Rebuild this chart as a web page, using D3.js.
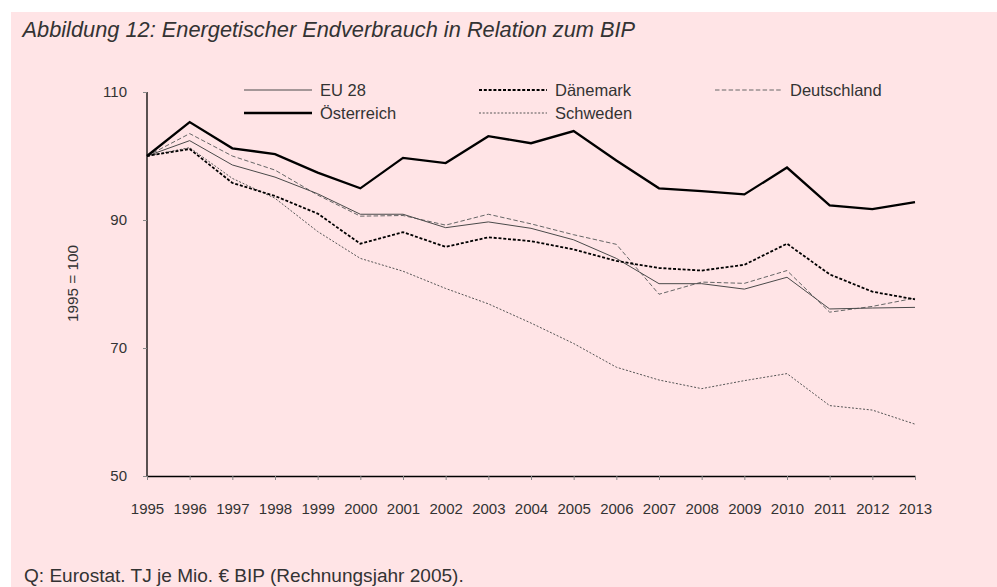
<!DOCTYPE html>
<html><head><meta charset="utf-8">
<script src="https://cdn.jsdelivr.net/npm/d3@7"></script>
<style>
html,body{margin:0;padding:0;background:#fff;}
svg{display:block;}
text{font-family:"Liberation Sans",Arial,sans-serif;fill:#333;}
</style></head>
<body>
<svg id="c" width="997" height="587"></svg>
<script>
const years = [1995,1996,1997,1998,1999,2000,2001,2002,2003,2004,2005,2006,2007,2008,2009,2010,2011,2012,2013];
const eu28 = [100,102.4,98.6,96.7,94.1,90.9,90.9,88.8,89.7,88.7,86.9,84.0,80.05,80.05,79.2,81.05,76.1,76.25,76.35];
const oesterreich = [100,105.3,101.2,100.3,97.4,94.95,99.7,98.9,103.1,102.0,103.9,99.3,94.95,94.5,94.0,98.2,92.3,91.7,92.8];
const daenemark = [100,101.1,95.8,93.75,91.0,86.3,88.1,85.8,87.3,86.7,85.4,83.6,82.5,82.1,83.0,86.3,81.5,78.8,77.6];
const deutschland = [100,103.5,100.0,97.8,93.9,90.6,90.7,89.2,90.9,89.4,87.7,86.2,78.4,80.3,80.1,82.1,75.6,76.5,77.8];
const schweden = [100,101.3,96.5,93.4,88.2,84.0,82.0,79.3,76.9,73.9,70.7,67.0,65.0,63.65,64.9,66.0,61.0,60.3,58.1];
const yTicks = [50,70,90,110];
const titleText = "Abbildung 12: Energetischer Endverbrauch in Relation zum BIP";
const yLabel = "1995 = 100";
const sourceText = "Q: Eurostat. TJ je Mio. € BIP (Rechnungsjahr 2005).";

const svg = d3.select("#c");
svg.append("rect").attr("x",11).attr("y",12).attr("width",986).attr("height",575).attr("fill","#FFE4E6");

function fit(sel, w){
  const n = sel.node();
  const fs = parseFloat(sel.attr("font-size"));
  const l = n.getComputedTextLength();
  sel.attr("font-size", (fs*w/l).toFixed(2));
}

const x = d3.scalePoint().domain(years).range([147,915]);
const y = d3.scaleLinear().domain([50,110]).range([476,92]);

// axes
const gy = svg.append("g").attr("transform","translate(147,0)")
  .call(d3.axisLeft(y).tickValues(yTicks).tickSizeInner(4).tickSizeOuter(0).tickPadding(16));
const gx = svg.append("g").attr("transform","translate(0,476)")
  .call(d3.axisBottom(x).tickSizeInner(4).tickSizeOuter(0).tickPadding(23));
[gx,gy].forEach(g=>{
  g.attr("font-size",15);
  g.select(".domain").attr("stroke","#000").attr("stroke-width",1.3);
  g.selectAll(".tick line").attr("stroke","#888");
  g.selectAll(".tick text").attr("font-size",15).attr("fill","#333");
});
gx.selectAll(".tick text").attr("dy","0.71em");
gy.select(".domain").attr("d","M0,92V476");

// series
const series = [
  {name:"Schweden", vals:schweden, color:"#555", w:1, dash:"2,1.7"},
  {name:"Deutschland", vals:deutschland, color:"#666", w:1, dash:"4.5,2.3"},
  {name:"EU 28", vals:eu28, color:"#4a4a4a", w:1, dash:null},
  {name:"Dänemark", vals:daenemark, color:"#000", w:1.8, dash:"3,1.8"},
  {name:"Österreich", vals:oesterreich, color:"#000", w:2.3, dash:null}
];
const line = d3.line().x((d,i)=>x(years[i])).y(d=>y(d));
series.forEach(s=>{
  svg.append("path").attr("d",line(s.vals)).attr("fill","none")
    .attr("stroke",s.color).attr("stroke-width",s.w)
    .attr("stroke-dasharray",s.dash).attr("stroke-linejoin","miter");
});

// legend
const legendPos = {
  "EU 28":[244,90,320],
  "Österreich":[244,113,320],
  "Dänemark":[479,90,555],
  "Schweden":[479,113,555],
  "Deutschland":[715,90,790]
};
series.forEach(s=>{
  const p = legendPos[s.name];
  svg.append("line").attr("x1",p[0]).attr("x2",p[0]+68).attr("y1",p[1]).attr("y2",p[1])
    .attr("stroke",s.color).attr("stroke-width",s.w).attr("stroke-dasharray",s.dash);
  svg.append("text").attr("x",p[2]).attr("y",p[1]+5.8).attr("font-size",16.5).text(s.name);
});

// title
const tt = svg.append("text").attr("x",22.5).attr("y",36.5).attr("font-size",20)
  .attr("font-style","italic").text(titleText);
fit(tt,613);

// y label
const yl = svg.append("text").attr("transform","translate(77.5,283.5) rotate(-90)")
  .attr("text-anchor","middle").attr("font-size",14).text(yLabel);
fit(yl,77);

// source
const src = svg.append("text").attr("x",24).attr("y",581.5).attr("font-size",15).text(sourceText);
fit(src,440);
</script>
</body></html>
